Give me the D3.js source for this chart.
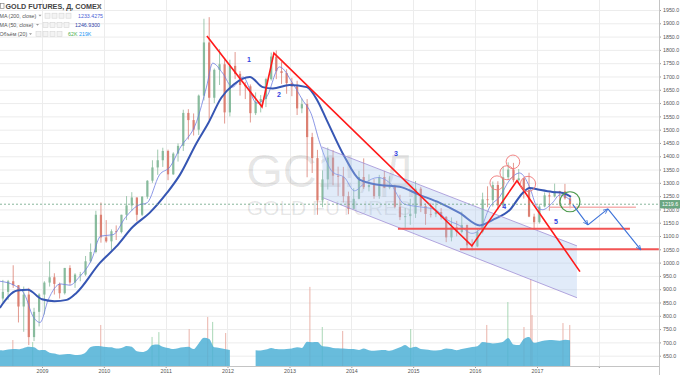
<!DOCTYPE html>
<html>
<head>
<meta charset="utf-8">
<script src="https://cdn.jsdelivr.net/npm/d3@7"></script>
<style>
body { margin: 0; background: #fff; }
svg { display: block; font-family: "Liberation Sans", Arial, sans-serif; }
</style>
</head>
<body>
<svg width="680" height="375"></svg>
<script>
// monthly candles, Apr 2008 .. Jul 2017 (GC1!)
var firstMonth = new Date(2008, 3, 15);
var opens = [920, 865, 890, 930, 915, 835, 880, 720, 815,
  880, 925, 945, 920, 885, 980, 925, 955, 955, 1005, 1040, 1180,
  1095, 1080, 1118, 1115, 1180, 1215, 1245, 1180, 1248, 1308, 1358, 1385,
  1420, 1332, 1410, 1439, 1563, 1536, 1500, 1628, 1828, 1620, 1725, 1746,
  1565, 1740, 1710, 1668, 1663, 1562, 1605, 1615, 1690, 1775, 1720, 1713,
  1675, 1663, 1580, 1596, 1472, 1393, 1234, 1313, 1395, 1327, 1323, 1250,
  1202, 1240, 1322, 1284, 1292, 1250, 1322, 1282, 1286, 1210, 1171, 1175,
  1184, 1278, 1213, 1183, 1182, 1190, 1172, 1095, 1133, 1115, 1142, 1065,
  1061, 1116, 1238, 1235, 1292, 1215, 1321, 1350, 1310, 1317, 1273, 1173,
  1152, 1211, 1253, 1249, 1269, 1268, 1242];
var highs = [935, 935, 935, 990, 915, 910, 905, 830, 885,
  930, 1005, 960, 925, 980, 990, 960, 965, 1025, 1072, 1195, 1226,
  1160, 1125, 1140, 1180, 1250, 1265, 1245, 1250, 1310, 1385, 1425, 1432,
  1425, 1415, 1448, 1575, 1577, 1561, 1632, 1917, 1923, 1730, 1803, 1764,
  1763, 1792, 1720, 1680, 1670, 1640, 1630, 1695, 1790, 1798, 1755, 1727,
  1695, 1684, 1617, 1615, 1488, 1424, 1347, 1433, 1423, 1361, 1360, 1267,
  1280, 1345, 1392, 1332, 1315, 1330, 1345, 1325, 1293, 1255, 1205, 1240,
  1307, 1285, 1222, 1225, 1232, 1205, 1175, 1170, 1157, 1192, 1142, 1088,
  1128, 1263, 1287, 1305, 1306, 1362, 1377, 1375, 1352, 1318, 1338, 1184,
  1221, 1264, 1264, 1297, 1270, 1296, 1245];
var lows = [860, 850, 860, 905, 775, 740, 690, 705, 760,
  805, 910, 880, 865, 880, 915, 905, 930, 950, 1000, 1035, 1075,
  1075, 1045, 1085, 1110, 1160, 1195, 1155, 1175, 1240, 1300, 1330, 1360,
  1310, 1330, 1380, 1420, 1463, 1478, 1480, 1610, 1535, 1600, 1668, 1523,
  1550, 1690, 1628, 1615, 1527, 1555, 1565, 1585, 1685, 1690, 1672, 1635,
  1626, 1555, 1562, 1321, 1337, 1180, 1208, 1275, 1291, 1251, 1226, 1182,
  1200, 1238, 1277, 1268, 1240, 1240, 1280, 1276, 1204, 1160, 1131, 1142,
  1168, 1190, 1142, 1170, 1171, 1162, 1077, 1080, 1099, 1110, 1052, 1046,
  1058, 1110, 1208, 1211, 1200, 1207, 1310, 1302, 1305, 1241, 1171, 1124,
  1147, 1208, 1195, 1245, 1214, 1237, 1204];
var closes = [865, 890, 930, 915, 835, 880, 720, 815, 880,
  925, 945, 920, 885, 980, 925, 955, 955, 1005, 1040, 1180, 1095,
  1080, 1118, 1115, 1180, 1215, 1245, 1180, 1248, 1308, 1358, 1385, 1420,
  1332, 1410, 1439, 1563, 1536, 1500, 1628, 1828, 1620, 1725, 1746, 1565,
  1740, 1710, 1668, 1663, 1562, 1605, 1615, 1690, 1775, 1720, 1713, 1675,
  1663, 1580, 1596, 1472, 1393, 1234, 1313, 1395, 1327, 1323, 1250, 1202,
  1240, 1322, 1284, 1292, 1250, 1322, 1282, 1286, 1210, 1171, 1175, 1184,
  1278, 1213, 1183, 1182, 1190, 1172, 1095, 1133, 1115, 1142, 1065, 1061,
  1116, 1238, 1235, 1292, 1215, 1321, 1350, 1310, 1317, 1273, 1173, 1152,
  1211, 1253, 1249, 1269, 1268, 1242, 1219.6];

// volume MA (20), thousands of contracts; null = no data
var volumeMA = [140, 138, 145, 150, 148, 160, 170, 165, 140,
  142, 118, 110, 100, 104, 106, 98, 100, 120, 168, 178, 175,
  168, 165, 155, 160, 178, 170, 130, 124, 140, 186, 190, 170,
  160, 150, 158, 165, 170, 150, 200, 250, 240, 165, 160, 150,
  142, null, null, null, null, 140, 138, 145, 160, 150, 148, 150,
  155, 165, 160, 215, 210, 212, 175, 170, 160, 158, 155, 150,
  150, 142, 155, 140, 135, 140, 142, 135, 148, 165, 186, 160,
  170, 150, 145, 140, 138, 142, 155, 150, 140, 150, 160, 168,
  175, 212, 205, 200, 204, 215, 248, 190, 185, 240, 257, 205,
  215, 225, 230, 228, 224, 232, 228];
var spikeYears = [2008.53, 2008.85, 2009.95, 2010.78, 2010.89, 2011.38, 2011.68, 2011.76, 2011.97,
  2013.33, 2013.53, 2013.86, 2014.96, 2016.19, 2016.53, 2016.79, 2016.90, 2016.92, 2017.42, 2017.53];
var spikeVols = [230, 212, 363, 257, 300, 327, 434, 390, 292,
  700, 345, 310, 327, 363, 566, 345, 770, 451, 380, 363];

// moving averages (read at points along the lines)
var maSlowYears = [2008.32, 2008.6, 2008.77, 2009.0, 2009.2, 2009.4, 2009.56, 2009.94, 2010.2, 2010.47,
  2010.74, 2011.02, 2011.23, 2011.5, 2011.69, 2011.9, 2012.1, 2012.36, 2012.57, 2012.73,
  2013.0, 2013.28, 2013.45, 2013.6, 2013.89, 2014.14, 2014.46, 2014.78, 2015.1, 2015.43,
  2015.75, 2016.08, 2016.28, 2016.56, 2016.77, 2016.88, 2017.04, 2017.25, 2017.42, 2017.55];
var maSlow = [830, 895, 898, 862, 855, 860, 887, 1000, 1060, 1135,
  1187, 1262, 1330, 1450, 1525, 1620, 1670, 1698, 1660, 1655,
  1668, 1660, 1610, 1537, 1398, 1311, 1292, 1285, 1255, 1225,
  1187, 1140, 1160, 1198, 1262, 1281, 1274, 1266, 1262, 1247];
var maFastYears = [2008.32, 2008.55, 2008.72, 2008.85, 2008.97, 2009.1, 2009.3, 2009.45, 2009.6, 2009.8,
  2009.95, 2010.15, 2010.35, 2010.55, 2010.7, 2010.9, 2011.07, 2011.23, 2011.5, 2011.66,
  2011.76, 2011.92, 2012.08, 2012.25, 2012.47, 2012.63, 2012.84, 2013.05, 2013.21, 2013.35,
  2013.49, 2013.7, 2013.89, 2014.05, 2014.22, 2014.43, 2014.62, 2014.86, 2015.1, 2015.35,
  2015.56, 2015.75, 2015.95, 2016.08, 2016.24, 2016.4, 2016.56, 2016.72, 2016.88, 2017.0,
  2017.09, 2017.25, 2017.37, 2017.55];
var maFast = [930, 915, 880, 800, 775, 860, 920, 915, 945, 1010,
  1100, 1105, 1170, 1215, 1225, 1330, 1360, 1430, 1530, 1660,
  1750, 1713, 1660, 1698, 1600, 1623, 1736, 1675, 1612, 1560,
  1450, 1340, 1320, 1270, 1300, 1320, 1300, 1220, 1210, 1200,
  1160, 1140, 1110, 1125, 1210, 1248, 1311, 1337, 1285, 1210,
  1199, 1225, 1255, 1233];

// axes
var yearTicks = [2009, 2010, 2011, 2012, 2013, 2014, 2015, 2016, 2017, 2018];
var priceTicks = d3.range(650, 1951, 50);

// drawings on the chart (year, price)
var zigYears = [2011.667, 2012.556, 2012.749, 2015.949, 2016.677, 2017.695];
var zigPrices = [1852, 1586, 1788, 1063, 1308, 966];
var levelFrom = [2014.754, 2015.756, 2017.21];
var levelTo = [2018.503, 2018.97, 2018.6];
var levelPrice = [1127, 1050, 1208];
var channelYears = [2013.525, 2017.646, 2017.646, 2013.541];
var channelPrices = [1435, 1063, 868, 1244];
var arrowYears = [2017.582, 2017.824, 2018.147, 2018.68];
var arrowPrices = [1217, 1142, 1202, 1048];
var topYears = [2016.354, 2016.515, 2016.612, 2016.855];
var topPrices = [1300, 1338, 1379, 1296];
var greenYear = 2017.533, greenPrice = 1229;
var waveLabels = ["1", "2", "3", "4", "5"];
var waveYears = [2012.345, 2012.83, 2014.721, 2016.47, 2017.307];
var wavePrices = [1762, 1631, 1409, 1210, 1153];

var lastPrice = 1219.6;

function yd(v) {
  var yr = Math.floor(v), a = new Date(yr, 0, 1), b = new Date(yr + 1, 0, 1);
  return new Date(+a + (v - yr) * (b - a));
}

var svg = d3.select("svg");
var plotRight = 659, plotBottom = 366;

var x = d3.scaleTime().domain([new Date(2009, 0, 1), new Date(2017, 0, 1)]).range([42, 537]);
var y = d3.scaleLinear().domain([650, 1950]).range([355.7, 10]);
var yVol = d3.scaleLinear().domain([0, 800]).range([plotBottom, plotBottom - 90.4]);

var months = opens.map(function(d, i) { return d3.timeMonth.offset(firstMonth, i); });

var defs = svg.append("defs");
defs.append("clipPath").attr("id", "plot")
  .append("rect").attr("x", 0).attr("y", 0).attr("width", plotRight).attr("height", plotBottom);
defs.append("marker").attr("id", "ah").attr("viewBox", "0 0 10 10")
  .attr("refX", 9).attr("refY", 5).attr("markerWidth", 5).attr("markerHeight", 5)
  .attr("orient", "auto")
  .append("path").attr("d", "M0,1 L9,5 L0,9").attr("fill", "none").attr("stroke", "#3a70d8").attr("stroke-width", 1.4);

// grid
var grid = svg.append("g");
grid.selectAll(".hg").data(priceTicks).enter().append("line")
  .attr("x1", 0).attr("x2", plotRight)
  .attr("y1", function(d) { return y(d) + 0.5; }).attr("y2", function(d) { return y(d) + 0.5; })
  .attr("stroke", "#ececec");
grid.selectAll(".vg").data(yearTicks).enter().append("line")
  .attr("x1", function(d) { return Math.round(x(new Date(d, 0, 1))) + 0.5; })
  .attr("x2", function(d) { return Math.round(x(new Date(d, 0, 1))) + 0.5; })
  .attr("y1", 0).attr("y2", plotBottom)
  .attr("stroke", "#ececec");

// watermark
svg.append("text").attr("x", 330).attr("y", 187).attr("text-anchor", "middle")
  .attr("font-size", 47).attr("fill", "#000").attr("fill-opacity", 0.1)
  .text("GC1!, Д");
svg.append("text").attr("x", 329).attr("y", 215).attr("text-anchor", "middle")
  .attr("font-size", 21).attr("fill", "#000").attr("fill-opacity", 0.1)
  .text("GOLD FUTURES");

var plot = svg.append("g").attr("clip-path", "url(#plot)");

// volume
plot.selectAll(".spike").data(spikeYears).enter().append("line")
  .attr("x1", function(d) { return x(yd(d)); }).attr("x2", function(d) { return x(yd(d)); })
  .attr("y1", plotBottom).attr("y2", function(d, i) { return yVol(spikeVols[i]); })
  .attr("stroke", function(d, i) {
    var m = Math.round((d - 2008.29) * 12);
    m = Math.max(0, Math.min(closes.length - 1, m));
    return closes[m] >= opens[m] ? "#9fd3ae" : "#e8aaa0";
  })
  .attr("stroke-width", 0.9);
var volArea = d3.area()
  .defined(function(d) { return d != null; })
  .x(function(d, i) { return x(months[i]); })
  .y0(plotBottom)
  .y1(function(d) { return yVol(d); })
  .curve(d3.curveMonotoneX);
plot.append("path").datum(volumeMA).attr("d", volArea)
  .attr("fill", "#4db0d6").attr("fill-opacity", 0.85);

// candles
var upCol = "#74b08c", downCol = "#d66a5a";
var candles = plot.selectAll(".candle").data(closes).enter().append("g").attr("opacity", 0.85);
candles.append("line")
  .attr("x1", function(d, i) { return x(months[i]); }).attr("x2", function(d, i) { return x(months[i]); })
  .attr("y1", function(d, i) { return y(highs[i]); }).attr("y2", function(d, i) { return y(lows[i]); })
  .attr("stroke", function(d, i) { return d >= opens[i] ? upCol : downCol; })
  .attr("stroke-width", 0.8);
candles.append("rect")
  .attr("x", function(d, i) { return x(months[i]) - 1.1; })
  .attr("width", 2.2)
  .attr("y", function(d, i) { return y(Math.max(d, opens[i])); })
  .attr("height", function(d, i) { return Math.max(0.8, Math.abs(y(d) - y(opens[i]))); })
  .attr("fill", function(d, i) { return d >= opens[i] ? upCol : downCol; });

// moving averages
var maLine = function(years) {
  return d3.line().x(function(d, i) { return x(yd(years[i])); }).y(function(d) { return y(d); })
    .curve(d3.curveMonotoneX);
};
plot.append("path").datum(maFast).attr("d", maLine(maFastYears))
  .attr("fill", "none").attr("stroke", "#6f7de0").attr("stroke-width", 0.8);
plot.append("path").datum(maSlow).attr("d", maLine(maSlowYears))
  .attr("fill", "none").attr("stroke", "#3656b3").attr("stroke-width", 2);

// channel
var chPts = channelYears.map(function(d, i) { return [x(yd(d)), y(channelPrices[i])]; });
plot.append("polygon").attr("points", chPts.map(function(p) { return p.join(","); }).join(" "))
  .attr("fill", "#a9c6ee").attr("fill-opacity", 0.35);
[[0, 1], [3, 2]].forEach(function(e) {
  plot.append("line")
    .attr("x1", chPts[e[0]][0]).attr("y1", chPts[e[0]][1])
    .attr("x2", chPts[e[1]][0]).attr("y2", chPts[e[1]][1])
    .attr("stroke", "#a08fd6").attr("stroke-width", 0.8);
});

// levels
plot.selectAll(".lvl").data(levelPrice).enter().append("line")
  .attr("x1", function(d, i) { return x(yd(levelFrom[i])); })
  .attr("x2", function(d, i) { return x(yd(levelTo[i])); })
  .attr("y1", function(d) { return y(d); }).attr("y2", function(d) { return y(d); })
  .attr("stroke", function(d, i) { return i === 2 ? "#f6b0b0" : "#f25555"; })
  .attr("stroke-width", function(d, i) { return i === 2 ? 1.5 : 2; });

// red zigzag
plot.append("path").datum(zigPrices)
  .attr("d", d3.line().x(function(d, i) { return x(yd(zigYears[i])); }).y(function(d) { return y(d); }))
  .attr("fill", "none").attr("stroke", "#ff1a1a").attr("stroke-width", 1.6);

// circles
plot.selectAll(".top").data(topPrices).enter().append("circle")
  .attr("cx", function(d, i) { return x(yd(topYears[i])); })
  .attr("cy", function(d) { return y(d); })
  .attr("r", function(d, i) { return [7, 7, 6.8, 7.6][i]; })
  .attr("fill", "none").attr("stroke", "#ef7777").attr("stroke-width", 0.9);
plot.append("circle").attr("cx", x(yd(greenYear))).attr("cy", y(greenPrice)).attr("r", 10)
  .attr("fill", "none").attr("stroke", "#4d9a4d").attr("stroke-width", 1.2);

// projection arrows
d3.range(arrowYears.length - 1).forEach(function(i) {
  plot.append("line")
    .attr("x1", x(yd(arrowYears[i]))).attr("y1", y(arrowPrices[i]))
    .attr("x2", x(yd(arrowYears[i + 1]))).attr("y2", y(arrowPrices[i + 1]))
    .attr("stroke", "#3a70d8").attr("stroke-width", 1.1)
    .attr("marker-end", "url(#ah)");
});

// last price line
plot.append("line").attr("x1", 0).attr("x2", plotRight)
  .attr("y1", y(lastPrice)).attr("y2", y(lastPrice))
  .attr("stroke", "#6ba583").attr("stroke-width", 0.8).attr("stroke-dasharray", "2,2");

// wave labels
plot.selectAll(".wave").data(waveLabels).enter().append("text")
  .attr("x", function(d, i) { return x(yd(waveYears[i])); })
  .attr("y", function(d, i) { return y(wavePrices[i]) + 2.5; })
  .attr("text-anchor", "middle").attr("font-size", 7).attr("font-weight", "bold")
  .attr("fill", "#3142e0").text(function(d) { return d; });

// right price scale
svg.append("rect").attr("x", plotRight).attr("y", 0).attr("width", 680 - plotRight).attr("height", 375).attr("fill", "#fff");
svg.append("rect").attr("x", 0).attr("y", plotBottom).attr("width", 680).attr("height", 375 - plotBottom).attr("fill", "#fff");
var yAxis = svg.append("g").attr("transform", "translate(" + plotRight + ",0)")
  .call(d3.axisRight(y).tickValues(priceTicks).tickFormat(d3.format(".1f")).tickSize(2).tickPadding(2));
yAxis.select(".domain").remove();
yAxis.selectAll("line").attr("stroke", "#999");
yAxis.selectAll("text").attr("font-size", 5.3).attr("fill", "#555").attr("font-family", "Liberation Sans, Arial, sans-serif");
svg.append("line").attr("x1", plotRight + 0.5).attr("x2", plotRight + 0.5).attr("y1", 0).attr("y2", 375)
  .attr("stroke", "#c4c4c4").attr("stroke-width", 1);

var xAxis = svg.append("g").attr("transform", "translate(0," + plotBottom + ")")
  .call(d3.axisBottom(x).tickValues(yearTicks.map(function(d) { return new Date(d, 0, 1); }))
    .tickFormat(function(d) { return d.getFullYear() < 2018 ? d.getFullYear() : ""; })
    .tickSize(2).tickPadding(1));
xAxis.select(".domain").remove();
xAxis.selectAll("line").attr("stroke", "#999");
xAxis.selectAll("text").attr("font-size", 5.3).attr("fill", "#555").attr("font-family", "Liberation Sans, Arial, sans-serif");
svg.append("line").attr("x1", 0).attr("x2", plotRight).attr("y1", plotBottom + 0.5).attr("y2", plotBottom + 0.5)
  .attr("stroke", "#c4c4c4");

// last price tag
svg.append("rect").attr("x", plotRight + 1).attr("y", y(lastPrice) - 4.2).attr("width", 21).attr("height", 8.4)
  .attr("fill", "#6aa681");
svg.append("text").attr("x", plotRight + 3).attr("y", y(lastPrice) + 1.9)
  .attr("font-size", 5.3).attr("fill", "#fff").text(d3.format(".1f")(lastPrice));

// legend
var legend = svg.append("g");
function caret(cx, cy) {
  legend.append("path").attr("d", "M" + (cx - 1.5) + "," + (cy - 1) + " L" + (cx + 1.5) + "," + (cy - 1) + " L" + cx + "," + (cy + 0.8) + "Z")
    .attr("fill", "#999");
}
function icons(x0, cy) {
  d3.range(4).forEach(function(k) {
    legend.append("rect").attr("x", x0 + k * 7).attr("y", cy - 2.5).attr("width", 5).attr("height", 5)
      .attr("fill", "#f3f3f3").attr("stroke", "#d6d6d6").attr("stroke-width", 0.6);
  });
}
legend.append("rect").attr("x", 0.5).attr("y", 3.5).attr("width", 3.5).attr("height", 5)
  .attr("fill", "none").attr("stroke", "#777").attr("stroke-width", 0.6);
legend.append("text").attr("x", 5.5).attr("y", 8.8).attr("font-size", 7.2).attr("font-weight", "bold")
  .attr("fill", "#444").text("GOLD FUTURES, Д, COMEX");
caret(100, 6.5);

var legendRows = [
  { label: "MA (200, close)", y: 17.6, caret: 40, icons: 45, vals: ["1233.4275"], valX: [78], colors: ["#4e63d6"] },
  { label: "MA (50, close)", y: 26.8, caret: 37.5, icons: 43, vals: ["1246.9300"], valX: [75], colors: ["#2e43a8"] },
  { label: "Объём (20)", y: 36, caret: 30.5, icons: 36, vals: ["62K", "219K"], valX: [68, 79], colors: ["#4caf50", "#2196f3"] }
];
legendRows.forEach(function(r) {
  legend.append("text").attr("x", -0.5).attr("y", r.y).attr("font-size", 5.3).attr("fill", "#555").text(r.label);
  caret(r.caret, r.y - 1.8);
  icons(r.icons, r.y - 1.9);
  r.vals.forEach(function(v, k) {
    legend.append("text").attr("x", r.valX[k]).attr("y", r.y).attr("font-size", 5.3).attr("fill", r.colors[k]).text(v);
  });
});
</script>
</body>
</html>
